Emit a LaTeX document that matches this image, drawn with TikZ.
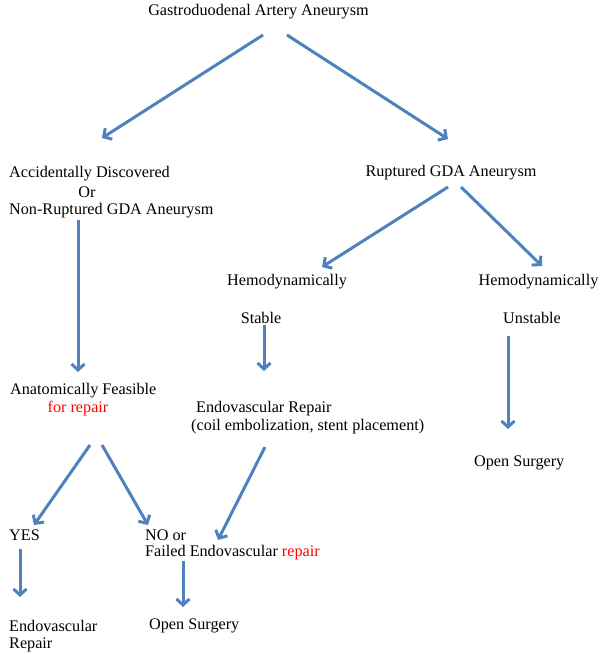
\documentclass[tikz,border=0pt]{standalone}
\usepackage{fontspec}
\setmainfont{Liberation Serif}
\usetikzlibrary{arrows.meta}
\definecolor{arrblue}{HTML}{4F81BD}
\definecolor{txtred}{HTML}{FF0000}
\begin{document}
\begin{tikzpicture}[x=1pt,y=-1pt,
  every node/.style={inner sep=0pt, font=\fontsize{16.2}{19}\selectfont},
  lbl/.style={anchor=west},
  arr/.style={draw=arrblue, line width=3pt, -{Straight Barb[length=6pt,width=13pt]}}]
\useasboundingbox (0,0) rectangle (600,654);
% texts
\node (title) at (258.5,12) {Gastroduodenal Artery Aneurysm};
\node[lbl] (acc1) at (9,174) {Accidentally Discovered};
\node (or) at (87,192) {Or};
\node[lbl] (acc3) at (9,211) {Non-Ruptured GDA Aneurysm};
\node (rup) at (451,173) {Ruptured GDA Aneurysm};
\node (hemL) at (287,282) {Hemodynamically};
\node (hemR) at (538.5,282) {Hemodynamically};
\node (stable) at (261,318) {Stable};
\node (unstable) at (532,318) {Unstable};
\node[lbl] (anat) at (10,391) {Anatomically Feasible};
\node[text=txtred] (forrep) at (78,409) {for repair};
\node[lbl] (endo1) at (196,409) {Endovascular Repair};
\node[lbl] (endo2) at (191,427) {(coil embolization, stent placement)};
\node[lbl] (osR) at (474,463) {Open Surgery};
\node[lbl] (yes) at (9,535) {YES};
\node[lbl] (noor) at (145,535) {NO or};
\node[lbl] (failed) at (145,553) {Failed Endovascular \textcolor{txtred}{repair}};
\node[lbl] (endoB1) at (9,626) {Endovascular};
\node[lbl] (endoB2) at (9,645) {Repair};
\node[lbl] (osB) at (149,626) {Open Surgery};
% connector end points
\coordinate (t1) at (263,35);   \coordinate (t1e) at (102,138);
\coordinate (t2) at (287,35);   \coordinate (t2e) at (448,139);
\coordinate (a1) at (78,220);   \coordinate (a1e) at (78,372);
\coordinate (r1) at (448,187);  \coordinate (r1e) at (322,267);
\coordinate (r2) at (461,187);  \coordinate (r2e) at (542,266);
\coordinate (s1) at (264,325);  \coordinate (s1e) at (264,371);
\coordinate (u1) at (508,336);  \coordinate (u1e) at (508,429);
\coordinate (f1) at (90,445);   \coordinate (f1e) at (34,525);
\coordinate (f2) at (102,445);  \coordinate (f2e) at (148,525);
\coordinate (e1) at (265,447);  \coordinate (e1e) at (218,540);
\coordinate (y1) at (20,549);   \coordinate (y1e) at (20,597);
\coordinate (n1) at (183,561);  \coordinate (n1e) at (183,607);
% connectors
\draw[arr] (t1) -- (t1e);
\draw[arr] (t2) -- (t2e);
\draw[arr] (a1) -- (a1e);
\draw[arr] (r1) -- (r1e);
\draw[arr] (r2) -- (r2e);
\draw[arr] (s1) -- (s1e);
\draw[arr] (u1) -- (u1e);
\draw[arr] (f1) -- (f1e);
\draw[arr] (f2) -- (f2e);
\draw[arr] (e1) -- (e1e);
\draw[arr] (y1) -- (y1e);
\draw[arr] (n1) -- (n1e);
\end{tikzpicture}
\end{document}
